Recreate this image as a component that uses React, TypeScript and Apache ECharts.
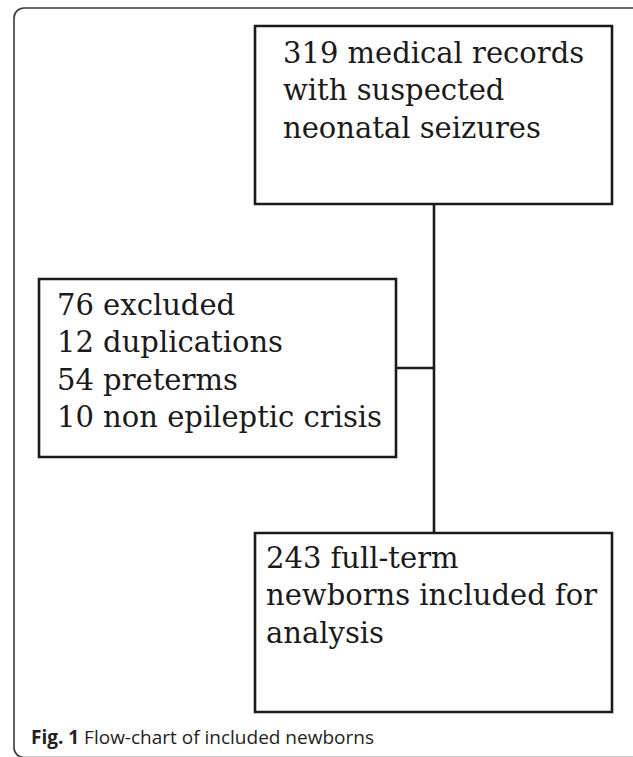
import React, { useEffect, useRef } from "react";
import * as echarts from "echarts";

const topBoxLines = ["319 medical records", "with suspected", "neonatal seizures"];
const excludedLines = ["76 excluded", "12 duplications", "54 preterms", "10 non epileptic crisis"];
const includedLines = ["243 full-term", "newborns included for", "analysis"];
const captionLabel = "Fig. 1";
const captionText = "Flow-chart of included newborns";

const BOX_FONT = "29px 'DejaVu Serif'";
const LINE_H = 37.5;
const TEXT_COLOR = "#1a1a1a";

function textLines(lines: string[], x: number, firstBaseline: number) {
  return lines.map((t, i) => ({
    type: "text",
    style: {
      text: t,
      x,
      y: firstBaseline + i * LINE_H - 10.5,
      font: BOX_FONT,
      fill: TEXT_COLOR,
      align: "left",
      verticalAlign: "middle",
    },
  }));
}

function box(x: number, y: number, w: number, h: number) {
  return {
    type: "rect",
    shape: { x, y, width: w, height: h },
    style: { fill: "#ffffff", stroke: "#1a1a1a", lineWidth: 2.6 },
  };
}

export default function App() {
  const ref = useRef<HTMLDivElement>(null);
  useEffect(() => {
    if (!ref.current) return;
    const chart = echarts.init(ref.current, null, { renderer: "svg" });
    const elements: any[] = [
      {
        type: "rect",
        shape: { x: 14, y: 8, width: 660, height: 749.5, r: 10 },
        style: { fill: "none", stroke: "#3a3a3a", lineWidth: 1.6 },
      },
      { type: "line", shape: { x1: 434, y1: 204, x2: 434, y2: 533 }, style: { stroke: "#1a1a1a", lineWidth: 2.6 } },
      { type: "line", shape: { x1: 396, y1: 368, x2: 434, y2: 368 }, style: { stroke: "#1a1a1a", lineWidth: 2.6 } },
      box(255, 26, 357, 178),
      box(39, 279, 357, 178),
      box(255, 533, 357, 179),
      ...textLines(topBoxLines, 283, 63),
      ...textLines(excludedLines, 57, 315),
      ...textLines(includedLines, 266, 568),
      {
        type: "text",
        style: {
          text: `{b|${captionLabel}} ${captionText}`,
          x: 31,
          y: 736.5,
          align: "left",
          verticalAlign: "middle",
          font: "19px 'Open Sans'",
          fill: "#231f20",
          rich: {
            b: { font: "bold 19px 'Open Sans'", fill: "#231f20" },
          },
        },
      },
    ];
    chart.setOption({
      animation: false,
      backgroundColor: "#ffffff",
      graphic: { elements },
    });
    return () => chart.dispose();
  }, []);
  return (
    <div
      ref={ref}
      style={{ position: "fixed", left: 0, top: 0, width: 633, height: 757, background: "#fff" }}
    />
  );
}
